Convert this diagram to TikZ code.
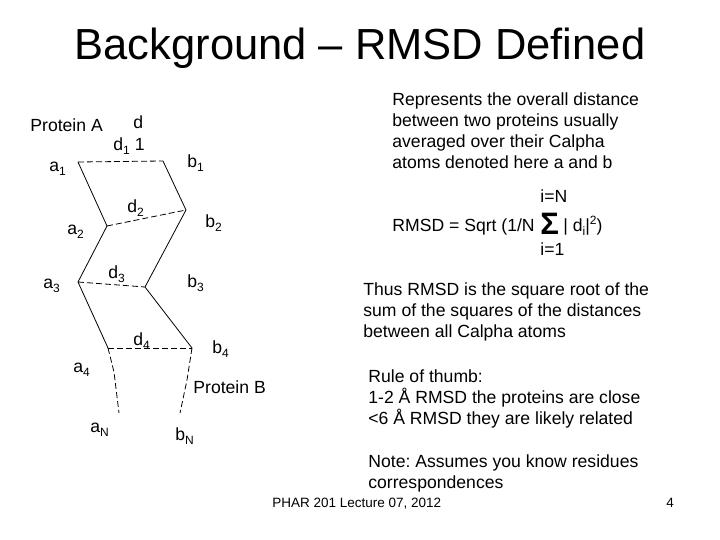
\documentclass[tikz,border=0pt]{standalone}
\usepackage{fontspec}
\setmainfont{Liberation Sans}
\usepackage{tikz}
\frenchspacing

% small lowered / raised indices as on the slide
\newcommand{\sbs}[1]{\raisebox{-4pt}{\fontsize{12}{12}\selectfont #1}}
\newcommand{\sps}[1]{\raisebox{7pt}{\fontsize{12}{12}\selectfont #1}}

\begin{document}
\begin{tikzpicture}[x=1pt, y=-1pt, line width=0.8pt]

    \tikzset{
        lbl/.style={inner sep=0pt, anchor=base west, font=\fontsize{17.6}{21}\selectfont},
        bond/.style={line width=0.8pt},
        dist/.style={line width=0.8pt, dash pattern=on 6pt off 3pt}
    }

    \useasboundingbox (0,0) rectangle (720,540);

    % ==========================================
    % Title
    % ==========================================
    \node[inner sep=0pt, anchor=base, font=\fontsize{43.5}{43.5}\selectfont] (title) at (360,60)
        {Background -- RMSD Defined};

    % ==========================================
    % Two chains of Calpha atoms
    % ==========================================
    \coordinate (a1) at (78,162);
    \coordinate (a2) at (107,226);
    \coordinate (a3) at (78,282);
    \coordinate (a4) at (108,348);
    \coordinate (a4m) at (114,372);
    \coordinate (aN) at (119,413);
    \coordinate (b1) at (163,161);
    \coordinate (b2) at (186,210);
    \coordinate (b3) at (145,287);
    \coordinate (b4) at (192,348);
    \coordinate (b4m) at (187,380);
    \coordinate (bN) at (180,413);

    % Backbones
    \draw[bond] (a1) -- (a2) -- (a3) -- (a4);
    \draw[bond] (b1) -- (b2) -- (b3) -- (b4);
    \draw[dist] (a4) -- (a4m) -- (aN);
    \draw[dist] (b4) -- (b4m) -- (bN);

    % Distances between paired atoms
    \draw[dist] (a1) -- (b1);
    \draw[dist] (a2) -- (b2);
    \draw[dist] (a3) -- (b3);
    \draw[dist] (a4) -- (b4);

    % Labels
    \node[lbl] (protA) at (30,132) {Protein A};
    \node[lbl] (dtop) at (133,129) {d};
    \node[lbl] (d1) at (113,151) {d\sbs{1} 1};
    \node[lbl] (la1) at (49,172) {a\sbs{1}};
    \node[lbl] (lb1) at (187,168) {b\sbs{1}};
    \node[lbl] (d2) at (127,213) {d\sbs{2}};
    \node[lbl] (la2) at (67,235) {a\sbs{2}};
    \node[lbl] (lb2) at (205,227) {b\sbs{2}};
    \node[lbl] (d3) at (108,278) {d\sbs{3}};
    \node[lbl] (la3) at (43,288) {a\sbs{3}};
    \node[lbl] (lb3) at (187,287) {b\sbs{3}};
    \node[lbl] (d4) at (133,345) {d\sbs{4}};
    \node[lbl] (lb4) at (212,353) {b\sbs{4}};
    \node[lbl] (la4) at (73,372) {a\sbs{4}};
    \node[lbl] (protB) at (193,393) {Protein B};
    \node[lbl] (laN) at (90,432) {a\sbs{N}};
    \node[lbl] (lbN) at (175,440) {b\sbs{N}};

    % ==========================================
    % Explanation and formula
    % ==========================================
    \foreach \txt [count=\i] in {Represents the overall distance,
        between two proteins usually, averaged over their Calpha,
        atoms denoted here a and b}
        \node[lbl] (def\i) at (392,{106+21*(\i-1)}) {\txt};

    \node[lbl] (upper) at (540,203) {i=N};
    \node[lbl] (rmsd) at (392,232) {RMSD = Sqrt (1/N};
    \node[lbl, font=\fontsize{31}{31}\selectfont\bfseries] (sigma) at (540,235) {\symbol{"03A3}};
    \node[lbl] (term) at (563,232) {| d\sbs{i}|\sps{2})};
    \node[lbl] (lower) at (540,255) {i=1};

    \foreach \txt [count=\i] in {Thus RMSD is the square root of the,
        sum of the squares of the distances, between all Calpha atoms}
        \node[lbl] (thus\i) at (363,{295+21*(\i-1)}) {\txt};

    \foreach \txt [count=\i] in {Rule of thumb:,
        1-2 Å RMSD the proteins are close, <6 Å RMSD they are likely related}
        \node[lbl] (rule\i) at (368,{382+21*(\i-1)}) {\txt};

    \foreach \txt [count=\i] in {Note: Assumes you know residues, correspondences}
        \node[lbl] (note\i) at (368,{467+21*(\i-1)}) {\txt};

    % Footer
    \node[lbl, font=\fontsize{13.5}{13.5}\selectfont] (foot) at (272,507) {PHAR 201 Lecture 07, 2012};
    \node[lbl, font=\fontsize{13.5}{13.5}\selectfont] (page) at (666,507) {4};

\end{tikzpicture}
\end{document}
